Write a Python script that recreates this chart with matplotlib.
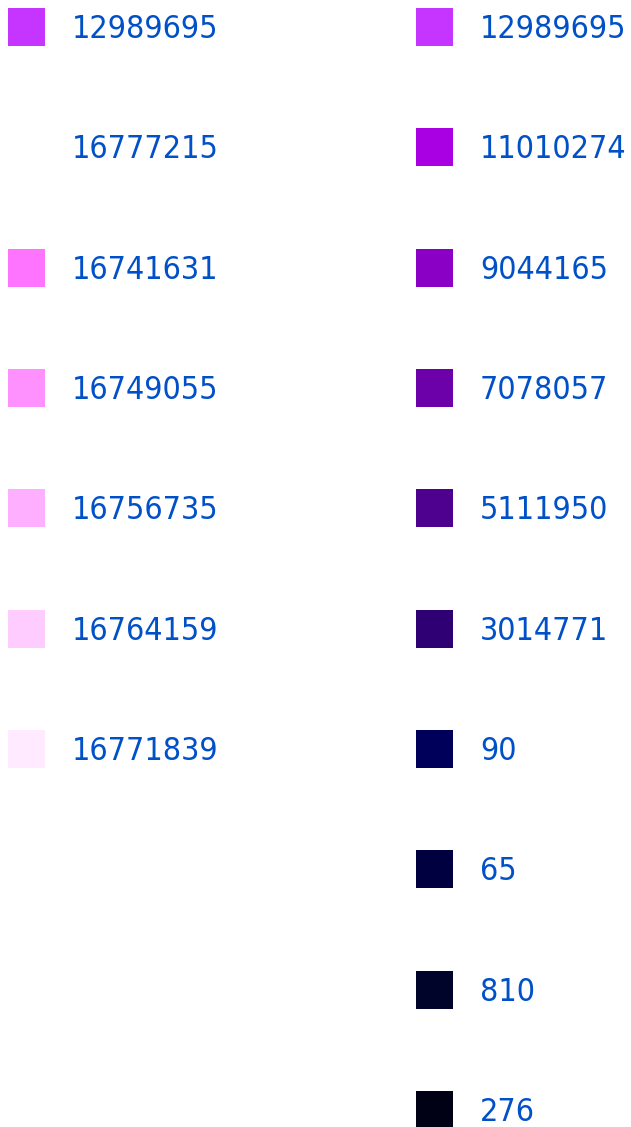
import matplotlib.pyplot as plt

# decimal colour values, one list per column
left_values = [12989695, 16777215, 16741631, 16749055, 16756735, 16764159, 16771839]
right_values = [12989695, 11010274, 9044165, 7078057, 5111950, 3014771, 90, 65, 810, 276]

W, H = 631, 1127
fig = plt.figure(figsize=(W / 100, H / 100), dpi=100)
ax = fig.add_axes([0, 0, 1, 1])
ax.set_xlim(0, W)
ax.set_ylim(H, 0)
ax.axis('off')

row_gap = 120.33
first_row = 27


def draw_column(values, x0):
    for i, v in enumerate(values):
        yc = first_row + i * row_gap
        ax.bar(x0, 38, width=37, bottom=yc - 19, align='edge',
               color='#%06X' % v, linewidth=0)
        ax.text(x0 + 64, yc + 11, str(v), fontsize=23, color='#0050C8',
                family=['DejaVu Sans Condensed', 'DejaVu Sans'], fontstretch='condensed',
                va='baseline', ha='left')


draw_column(left_values, 8)
draw_column(right_values, 416)

fig.savefig('out.png', dpi=100)
